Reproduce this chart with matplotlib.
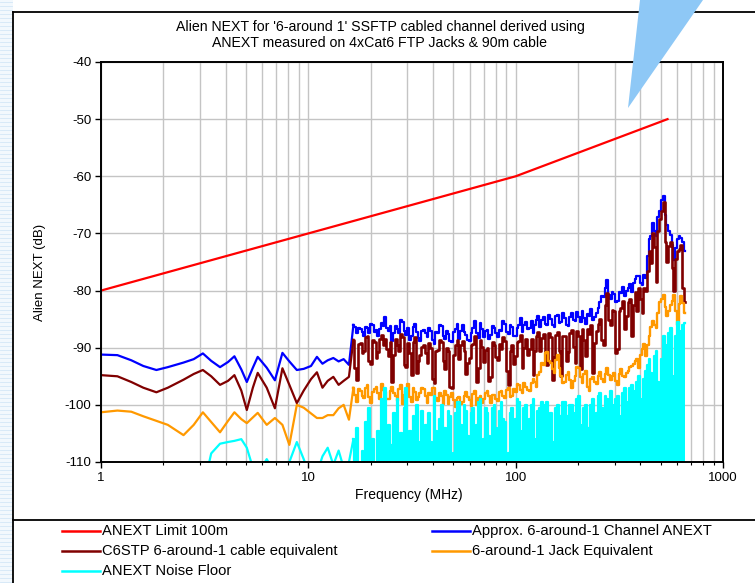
import matplotlib
matplotlib.use("Agg")
import matplotlib.pyplot as plt
from matplotlib.lines import Line2D
from matplotlib.patches import Polygon, Rectangle
from matplotlib.ticker import FixedLocator, FixedFormatter, LogLocator, NullFormatter

plt.rcParams['font.family'] = ['Liberation Sans', 'DejaVu Sans']

# ---------------- data ----------------
limit_freq = [1, 100, 540]
limit_db = [-80, -60, -50]

freq_low = [1.0, 1.2, 1.4, 1.6, 1.85, 2.1, 2.5, 2.8, 3.1, 3.4, 3.75, 4.1, 4.4, 4.75,
            5.05, 5.4, 5.7, 6.3, 6.9, 7.5, 8.1, 8.8, 9.5, 10.3, 11.0, 11.7, 12.4,
            13.2, 14.0, 14.8, 15.7]
freq_dense = [16.5, 16.8, 17.2, 17.5, 17.9, 18.2, 18.6, 18.9, 19.3, 19.7, 20.1, 20.5, 20.9, 21.3, 21.7, 22.1, 22.6, 23.0, 23.5, 23.9,
              24.4, 24.9, 25.4, 25.9, 26.4, 26.9, 27.5, 28.0, 28.6, 29.1, 29.7, 30.3, 30.9, 31.5, 32.1, 32.7, 33.4, 34.0, 34.7, 35.4,
              36.1, 36.8, 37.6, 38.3, 39.1, 39.8, 40.6, 41.4, 42.3, 43.1, 44.0, 44.8, 45.7, 46.6, 47.5, 48.4, 49.4, 50.4, 51.4, 52.4,
              53.5, 54.5, 55.6, 56.7, 57.8, 58.9, 60.1, 61.3, 62.5, 63.7, 65.0, 66.3, 67.6, 68.9, 70.3, 71.7, 73.1, 74.5, 76.0, 77.5,
              79.1, 80.6, 82.2, 83.8, 85.5, 87.2, 88.9, 90.7, 92.5, 94.3, 96.2, 98.1, 100, 102, 104, 106, 108, 110, 112, 114.5,
              117, 119.5, 122, 124, 126, 128.5, 131, 134, 137, 139.5, 142, 145, 148, 151, 154, 157, 160, 163, 166, 169.5,
              173, 176.5, 180, 183.5, 187, 190.5, 194, 198, 202, 206, 210, 214.5, 219, 223, 227, 231.5, 236, 241, 246, 251,
              256, 261, 266, 271, 276, 281.5, 287, 293, 299, 305, 311, 317, 323, 329.5, 336, 343, 350, 357, 364, 371,
              378, 385.5, 393, 401, 409, 417, 425, 433.5, 442, 451, 460, 469, 478, 487.5, 497, 507, 517, 527.5, 538, 548.5,
              559, 570.5, 582, 593.5, 605, 617, 629, 641.5, 654]

channel_low = [-91.2, -91.3, -92.2, -93.2, -93.9, -93.4, -92.6, -92.0, -91.0, -92.3,
               -93.4, -92.5, -91.5, -93.8, -96.0, -93.5, -91.6, -93.5, -95.7, -90.9,
               -92.4, -93.9, -93.7, -93.2, -91.6, -92.8, -92.2, -91.8, -92.4, -92.0, -93.0]
channel_dense = [-86.0, -86.4, -87.5, -86.6, -86.8, -87.2, -87.9, -86.3, -86.5, -87.4, -85.8, -86.1, -87.2, -86.9, -88.0, -86.7, -85.6, -86.2, -84.6, -86.5,
                 -87.0, -86.2, -88.9, -87.4, -86.2, -86.8, -87.4, -85.2, -85.5, -87.1, -87.8, -86.5, -88.6, -87.9, -86.4, -85.8, -87.2, -88.3, -88.8, -87.1,
                 -86.9, -87.5, -88.2, -86.6, -87.0, -88.7, -89.3, -87.2, -87.4, -86.0, -86.2, -87.9, -88.5, -87.1, -87.6, -88.8, -89.0, -87.3, -86.8, -85.9,
                 -88.4, -87.0, -86.0, -87.3, -87.7, -88.6, -88.9, -87.5, -86.6, -85.4, -87.5, -88.3, -85.6, -86.8, -88.1, -87.0, -86.9, -88.4, -87.8, -86.2,
                 -86.5, -87.4, -88.2, -86.9, -87.0, -85.4, -85.8, -87.2, -87.6, -86.1, -86.4, -87.9, -88.0, -86.5, -86.1, -84.8, -87.3, -86.0, -85.5, -86.8,
                 -86.6, -85.4, -87.5, -86.0, -85.2, -84.4, -86.4, -85.1, -84.6, -85.9, -86.0, -84.2, -85.0, -86.1, -86.3, -84.5, -84.2, -85.6, -85.5, -84.0,
                 -84.8, -86.0, -86.2, -84.7, -84.0, -85.2, -85.4, -83.8, -84.6, -85.5, -83.6, -84.8, -85.8, -84.1, -84.4, -83.2, -85.1, -84.6, -84.0, -83.0,
                 -82.0, -81.0, -81.2, -79.6, -78.2, -80.8, -81.5, -80.3, -80.6, -82.0, -81.8, -80.2, -80.4, -79.4, -81.0, -80.1, -79.6, -78.8, -80.2, -78.6,
                 -78.0, -77.4, -77.5, -78.6, -79.0, -77.2, -77.8, -74.0, -71.0, -70.4, -68.2, -69.5, -70.5, -67.2, -66.0, -64.2, -63.5, -66.8, -68.5, -69.6,
                 -70.2, -72.0, -74.6, -72.5, -71.0, -70.4, -70.8, -71.5, -73.0]

cable_low = [-94.8, -95.0, -96.0, -97.0, -97.8, -97.0, -95.6, -94.6, -93.9, -95.0,
             -96.5, -95.8, -94.8, -97.5, -100.9, -97.0, -94.4, -97.0, -100.6, -93.6,
             -96.5, -99.7, -97.5, -95.5, -94.3, -97.0, -95.8, -95.1, -96.5, -95.8, -95.1]
cable_dense = [-88.6, -93.5, -95.7, -89.4, -89.2, -91.0, -90.5, -88.2, -88.0, -92.4, -92.8, -88.6, -89.0, -91.8, -90.8, -88.5, -87.8, -89.6, -88.5, -90.2,
               -91.5, -89.0, -96.0, -91.2, -88.4, -89.5, -90.6, -87.6, -88.2, -93.0, -93.4, -89.2, -90.9, -94.8, -89.0, -88.2, -94.5, -92.4, -91.2, -89.8,
               -89.5, -91.0, -92.6, -89.2, -90.0, -95.4, -96.2, -90.5, -90.4, -88.6, -89.0, -92.3, -93.8, -90.0, -90.5, -96.8, -97.0, -91.2, -89.6, -88.7,
               -92.0, -89.6, -88.8, -90.5, -94.6, -92.6, -91.8, -89.6, -89.4, -88.0, -96.0, -93.5, -88.6, -89.8, -92.5, -90.4, -90.0, -95.8, -95.2, -89.0,
               -89.5, -91.6, -92.2, -89.4, -90.3, -88.2, -88.8, -94.0, -96.5, -90.5, -89.6, -92.8, -91.4, -89.0, -88.9, -87.8, -93.6, -90.0, -88.5, -91.2,
               -90.2, -88.4, -94.8, -90.6, -88.0, -87.2, -90.5, -88.3, -87.6, -91.5, -93.0, -87.4, -88.2, -95.6, -91.6, -87.8, -87.2, -90.5, -95.0, -87.9,
               -88.0, -92.4, -90.8, -87.5, -86.9, -89.8, -92.6, -87.0, -88.0, -93.8, -86.8, -88.6, -91.5, -86.7, -87.6, -86.0, -94.5, -89.2, -87.0, -85.8,
               -85.0, -88.6, -89.5, -82.6, -80.5, -85.2, -86.0, -83.4, -83.5, -91.0, -90.2, -83.6, -83.0, -81.8, -86.8, -84.5, -82.0, -81.5, -88.0, -82.6,
               -80.2, -83.5, -79.5, -81.4, -84.0, -79.6, -80.0, -76.5, -73.0, -75.2, -70.0, -72.4, -78.5, -69.6, -67.5, -66.0, -64.5, -71.5, -75.0, -72.2,
               -71.5, -76.0, -80.0, -74.5, -73.0, -72.8, -72.0, -79.5, -82.0]

jack_low = [-101.3, -101.0, -101.2, -102.0, -102.8, -103.5, -105.3, -103.5, -101.3, -103.0,
            -104.8, -102.8, -101.3, -102.5, -103.2, -102.2, -101.4, -103.5, -102.3, -103.5,
            -107.0, -100.0, -100.5, -101.5, -102.3, -102.3, -101.8, -101.8, -100.6, -100.0, -102.6]
jack_dense = [-97.0, -98.2, -99.5, -97.2, -97.6, -98.4, -98.8, -97.0, -96.5, -98.6, -99.6, -97.8, -97.3, -96.8, -98.0, -98.9, -96.4, -97.4, -97.8, -99.0,
              -99.0, -97.6, -96.8, -97.9, -98.4, -99.4, -97.2, -96.6, -99.8, -98.2, -97.5, -96.4, -98.6, -99.5, -97.0, -97.8, -99.2, -98.6, -98.0, -97.1,
              -97.2, -98.5, -99.6, -98.0, -98.2, -97.0, -97.0, -98.8, -99.4, -98.0, -98.4, -99.9, -97.6, -98.3, -99.8, -98.6, -98.0, -99.2, -100.4, -98.8,
              -98.6, -99.8, -99.5, -98.4, -97.8, -98.6, -99.2, -100.2, -98.1, -97.6, -100.0, -98.8, -98.4, -99.6, -99.0, -97.9, -97.6, -98.5, -99.6, -98.2,
              -98.2, -99.0, -99.4, -97.8, -97.5, -98.4, -98.8, -97.4, -97.0, -98.6, -98.5, -97.2, -97.8, -96.4, -96.6, -97.4, -98.0, -96.2, -96.8, -97.4,
              -97.6, -96.2, -95.5, -96.0, -96.8, -94.8, -94.2, -92.6, -93.0, -91.0, -90.8, -92.4, -92.6, -93.8, -94.5, -92.2, -91.2, -93.5, -95.0, -96.2,
              -96.0, -94.8, -94.2, -95.6, -97.0, -95.8, -95.0, -93.4, -93.6, -95.2, -96.2, -94.6, -94.0, -96.8, -97.5, -95.4, -95.2, -96.0, -96.4, -95.0,
              -94.2, -95.4, -96.0, -94.6, -93.5, -94.8, -95.6, -95.0, -94.4, -95.8, -96.5, -94.6, -93.8, -94.9, -95.2, -94.5, -94.0, -93.4, -93.2, -92.8,
              -92.4, -92.0, -93.5, -91.2, -90.2, -89.4, -91.5, -89.6, -88.0, -86.4, -85.4, -86.0, -86.5, -84.0, -82.0, -81.5, -80.8, -82.8, -84.5, -83.6,
              -82.5, -81.8, -80.8, -83.5, -86.0, -82.4, -81.0, -82.2, -84.0]

floor_low = [-115, -115, -115, -115, -115, -115, -115, -115, -115, -108.5,
             -106.8, -106.5, -106.3, -106.0, -107.5, -111.0, -112.0, -109.5, -112.0, -113.0,
             -110.0, -106.5, -109.5, -113.0, -112.0, -109.0, -107.5, -110.5, -108.0, -111.0, -110.0]
floor_dense = [-106.0, -110.5, -104.0, -110.5, -110.5, -108.0, -110.5, -103.0, -110.5, -100.5, -110.5, -106.0, -110.5, -110.5, -104.5, -110.5, -99.0, -110.5, -97.0, -110.5,
               -103.5, -110.5, -107.0, -101.5, -110.5, -99.0, -110.5, -105.0, -110.5, -100.5, -97.0, -110.5, -104.5, -109.5, -102.0, -110.5, -100.0, -106.5, -110.5, -101.0,
               -108.0, -103.5, -110.5, -101.5, -106.5, -110.5, -98.5, -104.5, -110.5, -102.5, -100.0, -110.5, -104.0, -105.5, -101.0, -102.0, -110.5, -108.5, -101.5, -99.5,
               -99.5, -103.5, -110.5, -100.0, -101.0, -105.5, -110.5, -101.5, -100.5, -104.0, -103.5, -99.5, -99.0, -110.5, -106.0, -100.5, -101.5, -105.5, -110.5, -100.5,
               -100.0, -104.0, -110.5, -101.0, -99.5, -102.5, -103.0, -110.5, -108.5, -101.5, -100.5, -103.0, -102.5, -99.0, -99.5, -110.5, -104.5, -100.5, -100.0, -103.5,
               -102.5, -100.0, -99.0, -110.5, -106.0, -101.0, -100.5, -99.5, -103.0, -100.0, -99.5, -110.5, -101.5, -106.5, -108.0, -100.5, -100.0, -103.5, -102.0, -99.5,
               -99.5, -102.0, -110.5, -100.0, -100.0, -103.0, -101.5, -99.0, -98.5, -110.5, -103.5, -100.5, -100.0, -104.0, -110.5, -100.0, -99.0, -102.0, -101.5, -98.5,
               -98.0, -100.5, -110.5, -98.5, -99.0, -101.0, -97.5, -100.0, -110.5, -99.0, -98.5, -102.0, -104.0, -98.0, -97.0, -110.5, -99.5, -97.0, -96.5, -99.0,
               -97.5, -96.0, -95.0, -110.5, -99.0, -95.5, -94.0, -93.0, -92.0, -94.5, -96.0, -91.5, -90.5, -96.0, -110.5, -92.0, -88.0, -89.5, -91.5, -87.5,
               -86.5, -95.0, -110.5, -88.0, -85.5, -87.0, -88.0, -86.0, -85.7]

series_labels = ["ANEXT Limit 100m", "Approx. 6-around-1 Channel ANEXT",
                 "C6STP 6-around-1 cable equivalent", "6-around-1 Jack Equivalent",
                 "ANEXT Noise Floor"]
series_colors = ["#ff0000", "#0000ff", "#800000", "#ff9900", "#00ffff"]

x_ticks = [1, 10, 100, 1000]
x_tick_labels = ["1", "10", "100", "1000"]
y_ticks = [-40, -50, -60, -70, -80, -90, -100, -110]
y_tick_labels = [str(v) for v in y_ticks]

title_text = "Alien NEXT for '6-around 1' SSFTP cabled channel derived using\nANEXT measured on 4xCat6 FTP Jacks & 90m cable"

# ---------------- figure ----------------
W, H = 755, 583
fig = plt.figure(figsize=(W / 100, H / 100), dpi=100)
fig.patch.set_facecolor("white")

def fx(px):
    return px / W

def fy(py):
    return 1 - py / H

# graph-paper strip on the left
fig.add_artist(Rectangle((0, 0), fx(13), 1, transform=fig.transFigure,
                         facecolor="#f2f8fd", edgecolor="none", zorder=0))
for py in range(2, H, 4):
    fig.add_artist(Line2D([0, fx(12)], [fy(py), fy(py)], transform=fig.transFigure,
                          color="#d3e7f7", lw=0.6, zorder=0))

# frame lines
fig.add_artist(Line2D([fx(13), fx(13)], [fy(12), 0], transform=fig.transFigure,
                      color="black", lw=1.3, zorder=1))
fig.add_artist(Line2D([fx(13), 1], [fy(12), fy(12)], transform=fig.transFigure,
                      color="black", lw=1.3, zorder=1))
fig.add_artist(Line2D([fx(13), 1], [fy(520), fy(520)], transform=fig.transFigure,
                      color="black", lw=1.3, zorder=1))

ax = fig.add_axes([fx(101), fy(462), (723 - 101) / W, (462 - 62) / H])
ax.set_xscale("log")
ax.set_xlim(1, 1000)
ax.set_ylim(-110, -40)

LW = 1.6
ax.plot(limit_freq, limit_db, color=series_colors[0], lw=LW, zorder=3)
series = [(channel_low, channel_dense, series_colors[1], 3, 1.6),
          (cable_low, cable_dense, series_colors[2], 4, 1.9),
          (jack_low, jack_dense, series_colors[3], 5, 1.7),
          (floor_low, floor_dense, series_colors[4], 6, 1.6)]
for low, dense, col, z, lw in series:
    ax.plot(freq_low + freq_dense[:1], low + dense[:1], color=col, lw=LW, zorder=z)
    ax.plot(freq_dense, dense, color=col, lw=lw, zorder=z, drawstyle="steps-mid")
ax.fill_between(freq_dense, -110, floor_dense, step="mid", color=series_colors[4],
                lw=0, zorder=6)

ax.xaxis.set_major_locator(FixedLocator(x_ticks))
ax.xaxis.set_major_formatter(FixedFormatter(x_tick_labels))
ax.xaxis.set_minor_locator(LogLocator(base=10, subs=range(2, 10)))
ax.xaxis.set_minor_formatter(NullFormatter())
ax.yaxis.set_major_locator(FixedLocator(y_ticks))
ax.yaxis.set_major_formatter(FixedFormatter(y_tick_labels))

ax.grid(True, which="major", color="#c4c4c4", lw=1.0)
ax.grid(True, which="minor", axis="x", color="#c4c4c4", lw=1.0)
ax.set_axisbelow(True)
for s in ax.spines.values():
    s.set_color("black")
    s.set_linewidth(1.4)
    s.set_zorder(8)
ax.tick_params(axis="both", which="major", direction="out", length=4, width=1.0,
               labelsize=9.5, colors="black", pad=3)
ax.tick_params(axis="x", which="minor", direction="out", length=2, width=0.8)

fig.text(fx(40), fy(272), "Alien NEXT (dB)", rotation=90, ha="center", va="center", fontsize=9.5)
fig.text(fx(409), fy(495), "Frequency (MHz)", ha="center", va="center", fontsize=10)
fig.text(fx(380), fy(35), title_text, ha="center", va="center", fontsize=10.2, linespacing=1.25)

# blue pointer triangle
fig.add_artist(Polygon([(fx(640), 1), (fx(703), 1), (fx(628), fy(108))], closed=True,
                       transform=fig.transFigure, facecolor="#8ec8f6", edgecolor="none", zorder=10))

# legend
legend_pos = [(62, 531), (432, 531), (62, 551), (432, 551), (62, 571)]
for (lx, ly), lab, col in zip(legend_pos, series_labels, series_colors):
    fig.add_artist(Line2D([fx(lx), fx(lx + 38)], [fy(ly), fy(ly)], transform=fig.transFigure,
                          color=col, lw=1.8))
    fig.text(fx(lx + 40), fy(ly), lab, ha="left", va="center", fontsize=10.6)

fig.savefig("out.png", dpi=100)
